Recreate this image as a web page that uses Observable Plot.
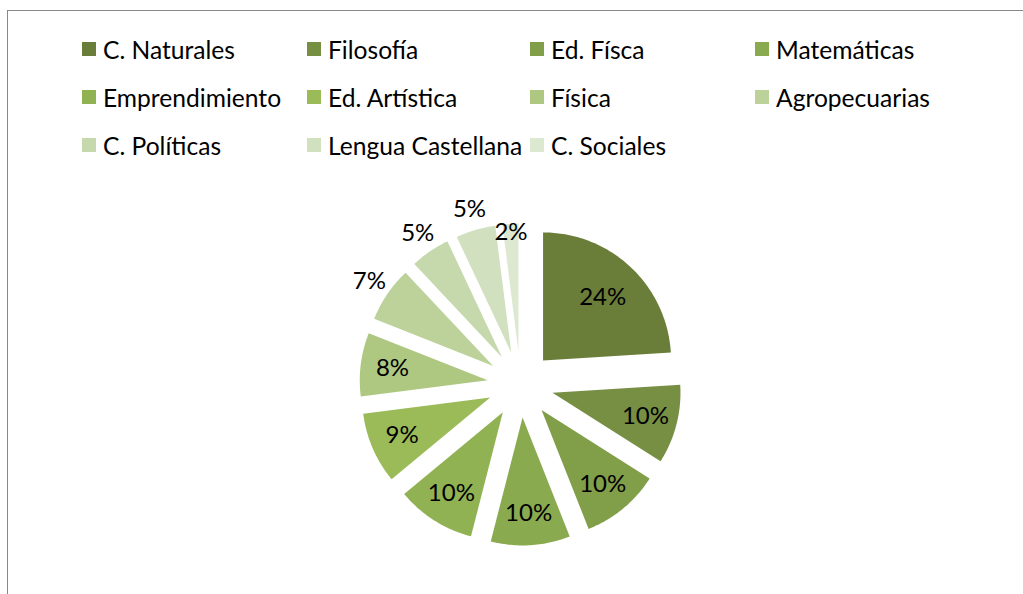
<!DOCTYPE html>
<html>
<head>
<meta charset="utf-8">
<script src="https://cdn.jsdelivr.net/npm/d3@7"></script>
<script src="https://cdn.jsdelivr.net/npm/@observablehq/plot@0.6"></script>
<style>
  html, body { margin: 0; padding: 0; background: #fff; }
  #frame { position: relative; width: 1023px; height: 594px; overflow: hidden; font-family: Lato, "Open Sans", sans-serif; }
  #border { position: absolute; left: 7px; top: 10px; width: 1100px; height: 700px; border-left: 1.5px solid #898989; border-top: 1.5px solid #898989; }
  #legend { position: absolute; left: 0; top: 0; }
  .item { position: absolute; display: flex; align-items: center; height: 28px; font-size: 24.6px; color: #000; white-space: nowrap; }
  .sw { width: 14px; height: 14px; margin-right: 7px; flex: none; }
  #chart { position: absolute; left: 0; top: 0; }
</style>
</head>
<body>
<div id="frame">
  <div id="border"></div>
  <div id="legend"></div>
  <div id="chart"></div>
</div>
<script>
// ---- data ----
const subjects = ["C. Naturales", "Filosofía", "Ed. Físca", "Matemáticas", "Emprendimiento", "Ed. Artística", "Física", "Agropecuarias", "C. Políticas", "Lengua Castellana", "C. Sociales"];
const percents = [24, 10, 10, 10, 10, 9, 8, 7, 5, 5, 2];
const colors = ["#6a7e3a", "#768f43", "#819e49", "#8aaa4f", "#91b252", "#9bbb59", "#aec882", "#bcd29a", "#c6d9ac", "#d1e1bf", "#dce8d0"];

// ---- layout constants ----
const W = 1023, H = 594;
const cx = 520, cy = 384, R = 128, explode = 33;

// legend (HTML, above the svg)
const legend = document.getElementById("legend");
const colX = [82, 307, 530, 755], rowY = [49, 97, 145];
subjects.forEach((s, i) => {
  const el = document.createElement("div");
  el.className = "item";
  el.style.left = colX[i % 4] + "px";
  el.style.top = (rowY[Math.floor(i / 4)] - 14) + "px";
  el.innerHTML = `<span class="sw" style="background:${colors[i]}"></span><span>${s}</span>`;
  legend.appendChild(el);
});

// pie geometry in units of radius (y up)
const pie = d3.pie().sort(null).value(d => d.value).startAngle(0).endAngle(2 * Math.PI);
const arcs = pie(subjects.map((name, i) => ({name, value: percents[i]})));
const e = explode / R;
const polys = [];
const labels = [];
arcs.forEach(a => {
  const mid = (a.startAngle + a.endAngle) / 2;
  const ox = e * Math.sin(mid), oy = e * Math.cos(mid);
  polys.push({name: a.data.name, x: ox, y: oy});
  const n = Math.max(4, Math.ceil((a.endAngle - a.startAngle) / (Math.PI / 180)));
  for (let k = 0; k <= n; k++) {
    const t = a.startAngle + (a.endAngle - a.startAngle) * k / n;
    polys.push({name: a.data.name, x: ox + Math.sin(t), y: oy + Math.cos(t)});
  }
  polys.push({name: a.data.name, x: ox, y: oy});
  const v = a.data.value;
  const lr = v >= 20 ? 0.68 : v >= 8 ? 0.75 : v >= 5 ? 1.17 : 0.93;
  labels.push({text: v + "%", x: ox + lr * Math.sin(mid), y: oy + lr * Math.cos(mid)});
});

const chart = Plot.plot({
  width: W, height: H,
  margin: 0,
  style: {background: "transparent"},
  x: {domain: [-cx / R, (W - cx) / R], axis: null},
  y: {domain: [-(H - cy) / R, cy / R], axis: null},
  color: {domain: subjects, range: colors},
  marks: [
    Plot.line(polys, {x: "x", y: "y", z: "name", fill: "name", stroke: null, curve: "linear"}),
    Plot.text(labels, {x: "x", y: "y", text: "text", fontSize: 24, fill: "#000", fontFamily: "Lato, 'Open Sans', sans-serif"})
  ]
});
document.getElementById("chart").appendChild(chart);
</script>
</body>
</html>
